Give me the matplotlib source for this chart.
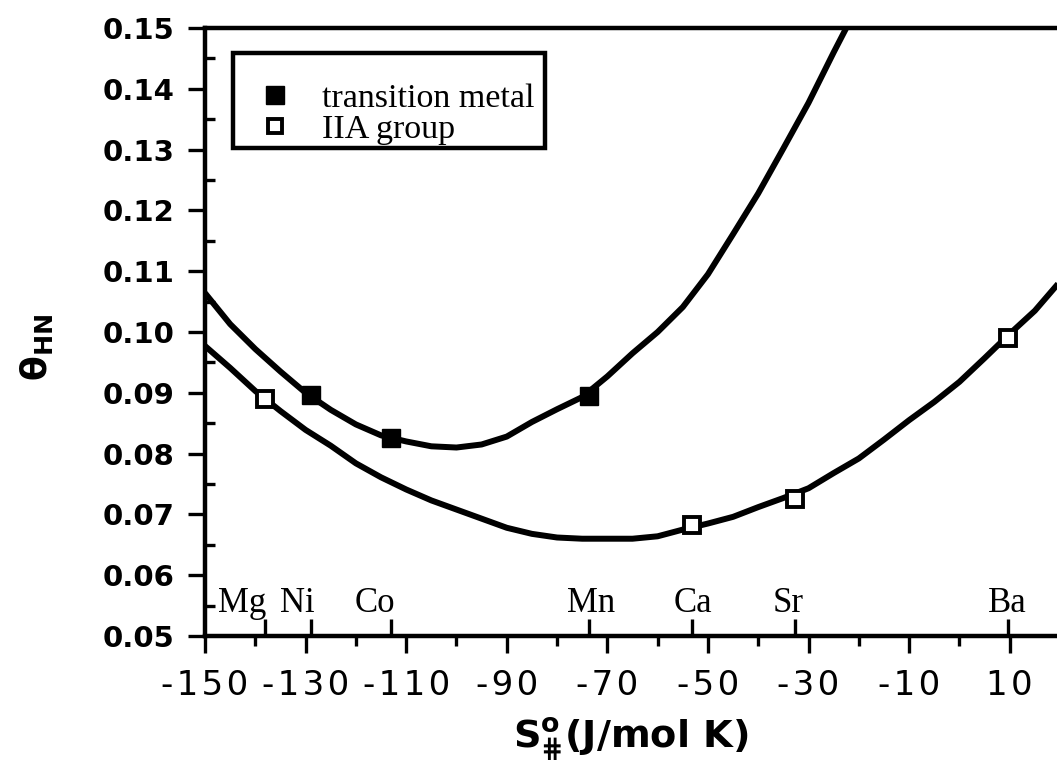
import matplotlib
matplotlib.use("Agg")
import matplotlib.pyplot as plt
from matplotlib.patches import Rectangle
from matplotlib.ticker import FixedLocator, FixedFormatter, MultipleLocator, FormatStrFormatter

plt.rcParams["mathtext.fontset"] = "dejavusans"

# Standard entropies S° (J/mol K) and θ_HN values
tm_names = ["Ni", "Co", "Mn"]
tm_entropy = [-128.9, -113.0, -73.6]
tm_theta = [0.0896, 0.0825, 0.0895]

iia_names = ["Mg", "Ca", "Sr", "Ba"]
iia_entropy = [-138.1, -53.1, -32.6, 9.6]
iia_theta = [0.0890, 0.0683, 0.0725, 0.0990]

# Fitted curves
tm_fit_x = [-150, -145, -140, -135, -130, -125, -120, -115, -110, -105, -100,
            -95, -90, -85, -80, -75, -70, -65, -60, -55, -50, -45, -40, -35,
            -30, -25, -20]
tm_fit_y = [0.1064, 0.1013, 0.0972, 0.0935, 0.0900, 0.0872, 0.0848, 0.0830,
            0.0820, 0.0812, 0.0810, 0.0815, 0.0828, 0.0852, 0.0873, 0.0893,
            0.0927, 0.0965, 0.1000, 0.1041, 0.1095, 0.1161, 0.1228, 0.1302,
            0.1377, 0.1460, 0.1540]

iia_fit_x = [-150, -145, -140, -135, -130, -125, -120, -115, -110, -105, -100,
             -95, -90, -85, -80, -75, -70, -65, -60, -55, -50, -45, -40, -35,
             -30, -25, -20, -15, -10, -5, 0, 5, 10, 15, 20]
iia_fit_y = [0.0977, 0.0941, 0.0903, 0.0870, 0.0839, 0.0813, 0.0784, 0.0761,
             0.0741, 0.0723, 0.0708, 0.0693, 0.0678, 0.0668, 0.0662, 0.0660,
             0.0660, 0.0660, 0.0664, 0.0675, 0.0685, 0.0696, 0.0712, 0.0727,
             0.0743, 0.0768, 0.0792, 0.0823, 0.0855, 0.0885, 0.0918, 0.0957,
             0.0997, 0.1035, 0.1083]

x_major = [-150, -130, -110, -90, -70, -50, -30, -10, 10]
x_minor = [-140, -120, -100, -80, -60, -40, -20, 0]
x_major_labels = ["-150", "-130", "-110", "-90", "-70", "-50", "-30", "-10", "10"]

legend_labels = ["transition metal", "IIA group"]

fig = plt.figure(figsize=(10.57, 7.80), dpi=100)
ax = fig.add_axes([205 / 1057, 1 - 636 / 780, (1057 - 205) / 1057, (636 - 28) / 780])

ax.plot(tm_fit_x, tm_fit_y, color="black", lw=4.3, solid_capstyle="butt",
        solid_joinstyle="round", zorder=2)
ax.plot(iia_fit_x, iia_fit_y, color="black", lw=4.3, solid_capstyle="butt",
        solid_joinstyle="round", zorder=2)

h_tm, = ax.plot(tm_entropy, tm_theta, ls="none", marker="s", ms=13, mfc="black",
                mec="black", mew=1, zorder=3)
h_iia, = ax.plot(iia_entropy, iia_theta, ls="none", marker="s", ms=11, mfc="white",
                 mec="black", mew=2.8, zorder=3)

ax.set_xlim(-150, 19.4)
ax.set_ylim(0.05, 0.15)

for side in ("left", "bottom", "top"):
    ax.spines[side].set_linewidth(3.2)
ax.spines["right"].set_visible(False)

# letter-spaced tick labels along the entropy axis
spaced = ["\u200a".join(s) for s in x_major_labels]
ax.xaxis.set_major_locator(FixedLocator(x_major))
ax.xaxis.set_major_formatter(FixedFormatter(spaced))
ax.xaxis.set_minor_locator(FixedLocator(x_minor))
ax.yaxis.set_major_locator(MultipleLocator(0.01))
ax.yaxis.set_minor_locator(MultipleLocator(0.005))
ax.yaxis.set_major_formatter(FormatStrFormatter("%.2f"))

ax.tick_params(axis="x", which="major", direction="out", length=12, width=2.4,
               pad=12, labelsize=24.5)
ax.tick_params(axis="x", which="minor", direction="out", length=7, width=2.4)
ax.tick_params(axis="y", which="major", direction="out", length=12, width=2.4,
               pad=10, labelsize=21)
ax.tick_params(axis="y", which="minor", direction="in", length=7, width=2.4)
ax.tick_params(top=False, right=False, which="both")

for lab in ax.get_yticklabels():
    lab.set_fontweight("bold")
    lab.set_family("DejaVu Sans")
for lab in ax.get_xticklabels():
    lab.set_family("DejaVu Sans")

# upward ticks marking each ion along the bottom axis
all_names = tm_names + iia_names
all_entropy = tm_entropy + iia_entropy
sec = ax.secondary_xaxis("bottom")
sec.set_xticks(all_entropy)
sec.tick_params(direction="in", length=12, width=2.4, labelbottom=False)
sec.spines["bottom"].set_visible(False)

name_shift = {"Mg": -23, "Ni": -14, "Co": -16, "Mn": 2, "Ca": 1, "Sr": -7, "Ba": 0}
for name, xv in zip(all_names, all_entropy):
    ax.annotate(name, xy=(xv, 0.05), xytext=(name_shift[name], 24),
                textcoords="offset pixels", ha="center", va="baseline",
                family="Liberation Serif", fontsize=25)

ax.set_xlabel(r"$\mathbf{S}^{\mathbf{o}}_{\mathbf{⋕}}$(J/mol K)", fontsize=27.5,
              fontweight="bold", family="DejaVu Sans", labelpad=9)
ax.set_ylabel(r"θ$_{\mathbf{HN}}$", fontsize=26, fontweight="bold",
              family="DejaVu Sans")
ax.yaxis.set_label_coords(-0.176, 0.474)

leg = ax.legend([h_tm, h_iia], legend_labels, loc="upper left",
                bbox_to_anchor=(0.0387, 0.9424), borderaxespad=0, frameon=False,
                prop={"family": "Liberation Serif", "size": 24.5},
                handlelength=1.0, handletextpad=0.88, borderpad=0.6,
                labelspacing=0.0, markerscale=0.95)
ax.add_patch(Rectangle((0.0329, 0.8026), 0.3662, 0.1563, transform=ax.transAxes,
                       fill=False, edgecolor="black", linewidth=3.2, zorder=5,
                       clip_on=False))

fig.savefig("out.png", dpi=100)
